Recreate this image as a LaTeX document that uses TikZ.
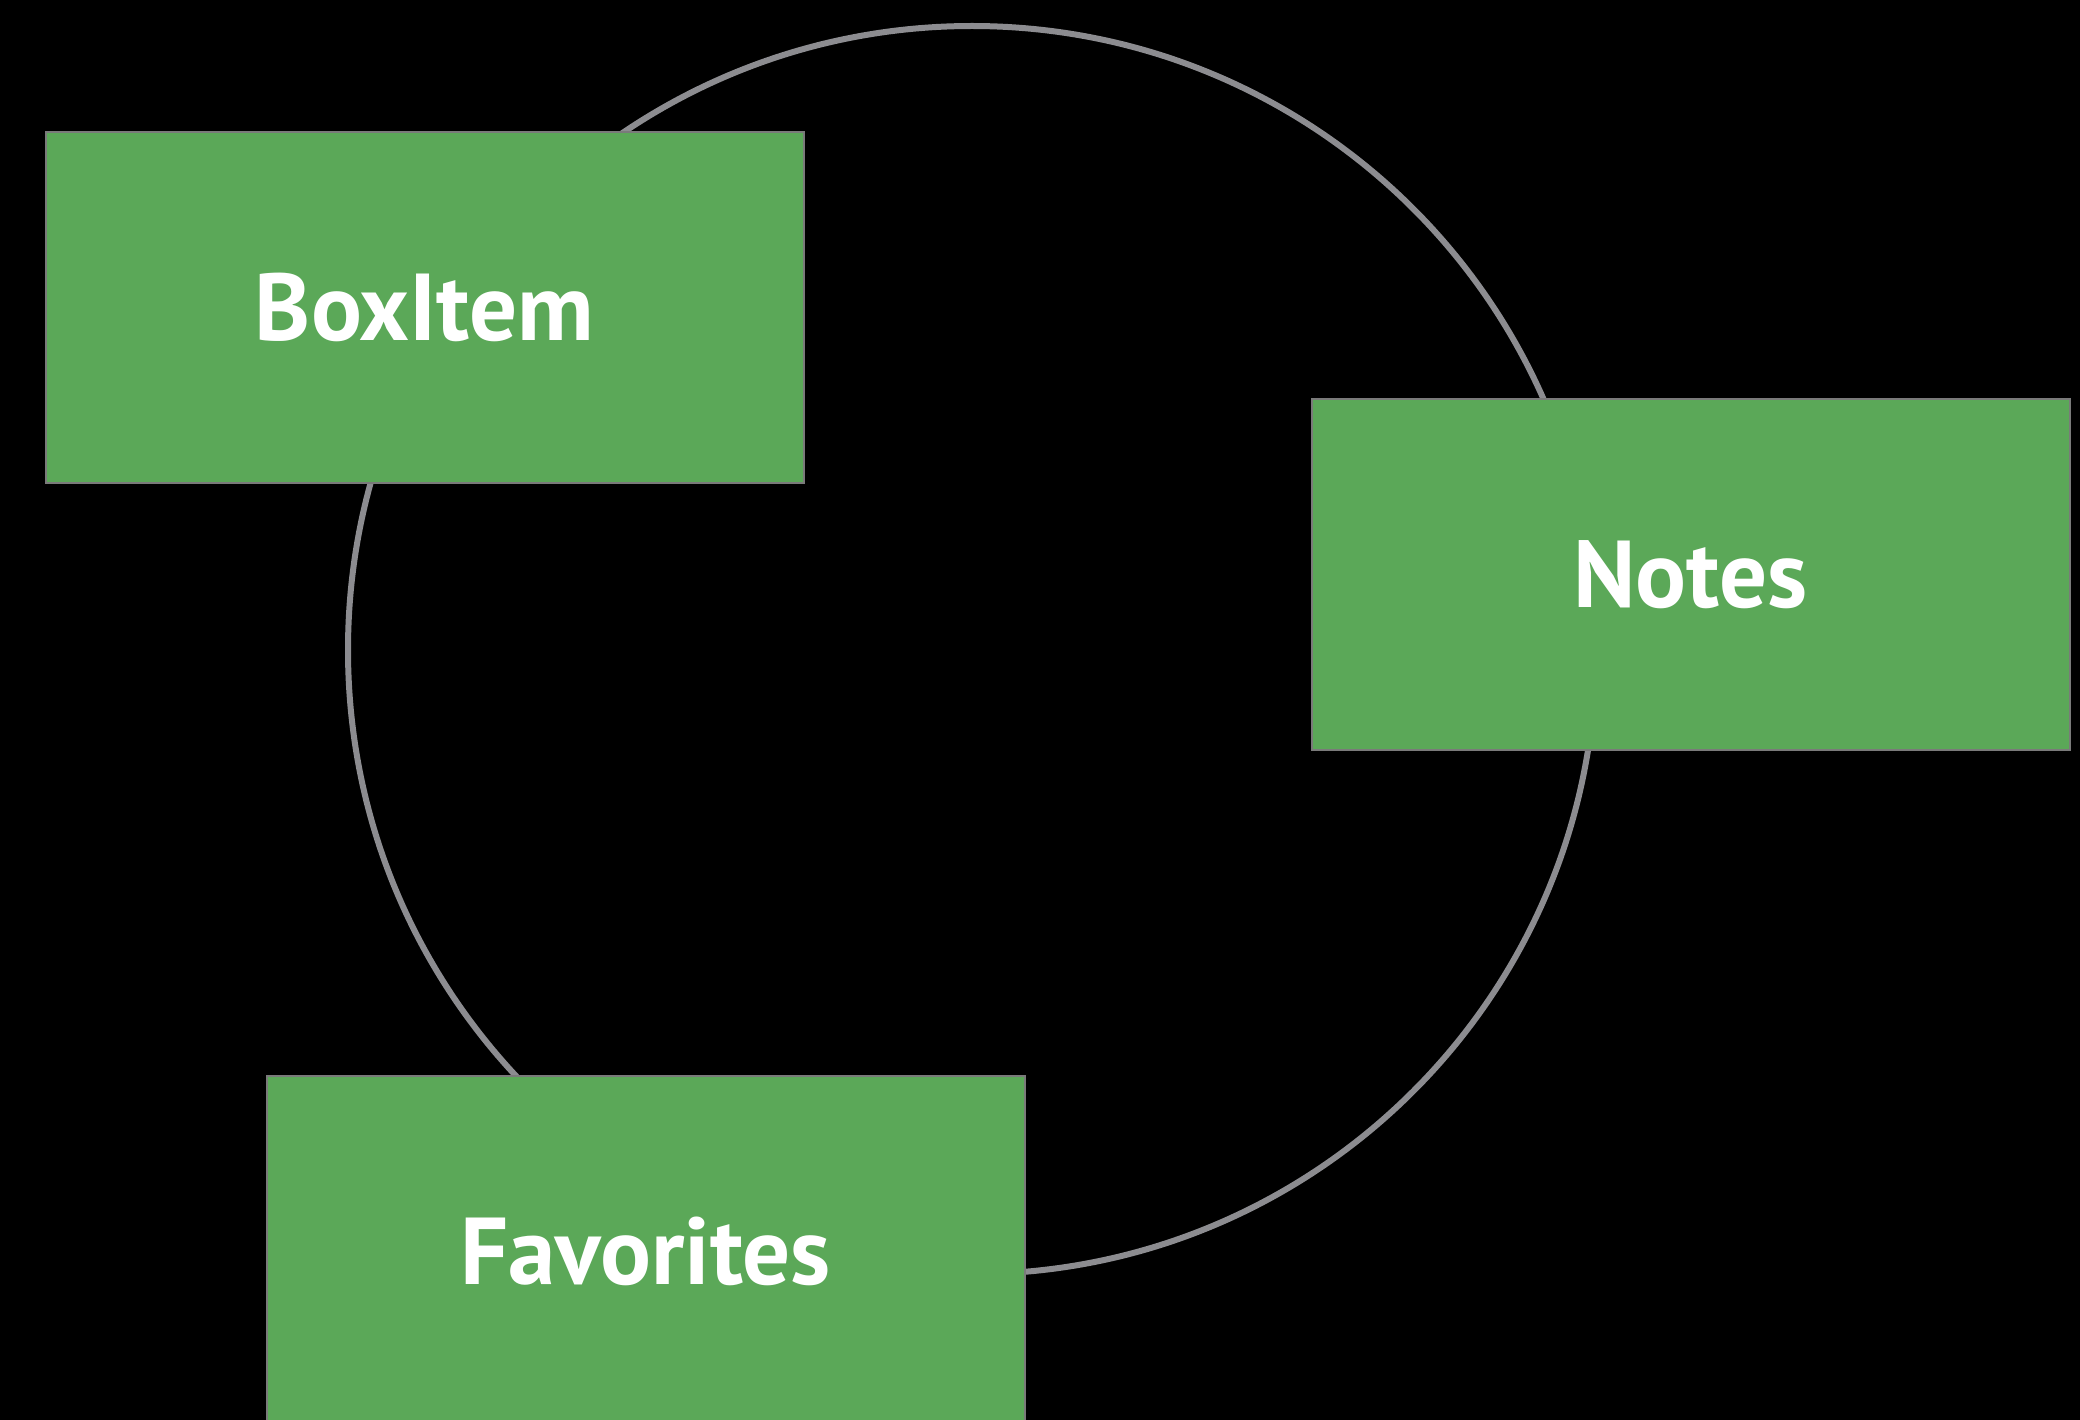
\documentclass[tikz,border=0pt]{standalone}
\usepackage{fontspec}
\setmainfont{PT Sans}
\definecolor{boxgreen}{HTML}{5BA858}
\definecolor{boxedge}{HTML}{7A7A7A}
\definecolor{ringgrey}{HTML}{8C8C90}
\begin{document}
\begin{tikzpicture}[x=1pt,y=-1pt,
  entity/.style={rectangle, fill=boxgreen, draw=boxedge, line width=2pt,
    minimum width=758pt, minimum height=350pt, inner sep=0pt,
    text=white, font=\fontsize{95}{110}\selectfont\bfseries,
    text height=66.5pt, text depth=0pt},
  ring/.style={circle, draw=ringgrey, line width=6pt, minimum size=1248pt, inner sep=0pt}]
\useasboundingbox (0,0) rectangle (2080,1420);
\clip (0,0) rectangle (2080,1420);
\fill[black] (0,0) rectangle (2080,1420);
\node[ring] (cycle) at (972,650) {};
\node[entity] (boxitem) at (424.5,307.5) {BoxItem};
\node[entity] (notes) at (1690.5,574.5) {Notes};
\node[entity] (favorites) at (645.5,1251) {Favorites};
\end{tikzpicture}
\end{document}
